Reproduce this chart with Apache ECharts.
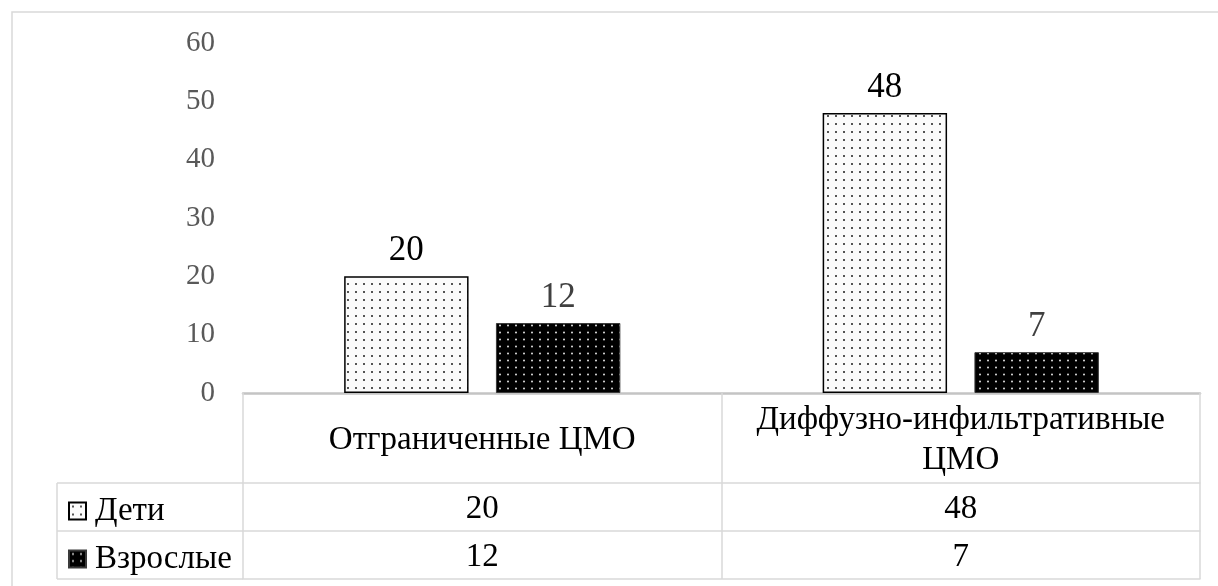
<!DOCTYPE html>
<html>
<head>
<meta charset="utf-8">
<title>ЦМО: дети и взрослые</title>
<script src="https://cdn.jsdelivr.net/npm/echarts@6/dist/echarts.min.js"></script>
<style>
  html, body { margin: 0; padding: 0; background: #ffffff; }
  #chart { width: 1218px; height: 586px; }
</style>
</head>
<body>
<div id="chart"></div>
<script>
// Data
const categories = ['Отграниченные ЦМО', 'Диффузно-инфильтративные ЦМО'];
const seriesNames = ['Дети', 'Взрослые'];
const kidsValues = [20, 48];
const adultValues = [12, 7];
const yTicks = [0, 10, 20, 30, 40, 50, 60];

const FONT = "'Liberation Serif', 'Times New Roman', serif";
const LINE = '#d9d9d9';
const TABLE_FONT = 33;

// Dotted fills for the bars
function dotTile(w, h, bg, dot, r) {
  const c = document.createElement('canvas');
  c.width = w; c.height = h;
  const ctx = c.getContext('2d');
  ctx.fillStyle = bg;
  ctx.fillRect(0, 0, w, h);
  ctx.fillStyle = dot;
  ctx.beginPath();
  ctx.arc(w / 2, h / 2, r, 0, Math.PI * 2);
  ctx.fill();
  return c;
}
const kidsFill = { image: dotTile(8, 8, '#fbfbfb', '#1e1e1e', 1.0), repeat: 'repeat' };
const adultFill = { image: dotTile(8, 7, '#000000', '#e0e0e0', 1.0), repeat: 'repeat' };

// Long category names wrap onto two lines at their last space
function wrapName(name) {
  if (name.length <= 20) return name;
  const i = name.lastIndexOf(' ');
  return i > 0 ? name.slice(0, i) + '\n' + name.slice(i + 1) : name;
}

// Table geometry (grid bottom = table top)
const gridLeft = 243, gridRight = 18, gridTop = 43, gridBottom = 193;
const headerH = 90, rowH = 48;
const tableTop = 586 - gridBottom;
const legendLeft = 57;

const chart = echarts.init(document.getElementById('chart'), null, { renderer: 'canvas' });

function rowAxis(offset, values, showTicks) {
  return {
    type: 'category',
    data: categories,
    position: 'bottom',
    offset: offset,
    axisLine: { show: true, lineStyle: { color: LINE, width: 1.5 } },
    axisTick: { show: showTicks, alignWithLabel: false, length: rowH, lineStyle: { color: LINE, width: 1.5 } },
    axisLabel: {
      show: !!values,
      interval: 0,
      margin: rowH / 2 + 2,
      verticalAlign: 'middle',
      fontFamily: FONT,
      fontSize: TABLE_FONT,
      color: '#000',
      formatter: function (v, i) { return values ? String(values[i]) : ''; }
    },
    splitLine: { show: false }
  };
}

const legendLines = [];
[headerH, headerH + rowH, headerH + 2 * rowH].forEach(function (dy) {
  legendLines.push({
    type: 'line',
    shape: { x1: legendLeft, y1: tableTop + dy, x2: gridLeft, y2: tableTop + dy },
    style: { stroke: LINE, lineWidth: 1.5 }
  });
});
legendLines.push({
  type: 'line',
  shape: { x1: legendLeft, y1: tableTop + headerH, x2: legendLeft, y2: tableTop + headerH + 2 * rowH },
  style: { stroke: LINE, lineWidth: 1.5 }
});

const option = {
  backgroundColor: '#ffffff',
  animation: false,
  grid: { left: gridLeft, right: gridRight, top: gridTop, bottom: gridBottom, containLabel: false },
  legend: {
    orient: 'vertical',
    left: 63,
    top: tableTop + headerH + 6,
    itemWidth: 17,
    itemHeight: 17,
    itemGap: 14,
    icon: 'rect',
    data: seriesNames,
    textStyle: { fontFamily: FONT, fontSize: TABLE_FONT, color: '#000', lineHeight: 34, padding: [0, 0, 0, 4] }
  },
  xAxis: [
    {
      type: 'category',
      data: categories,
      position: 'bottom',
      axisLine: { show: true, lineStyle: { color: '#c4c4c4', width: 2.5 } },
      axisTick: { show: true, alignWithLabel: false, length: headerH, lineStyle: { color: LINE, width: 1.5 } },
      axisLabel: {
        interval: 0,
        margin: headerH / 2 + 2,
        verticalAlign: 'middle',
        fontFamily: FONT,
        fontSize: TABLE_FONT,
        lineHeight: 40,
        color: '#000',
        formatter: wrapName
      },
      splitLine: { show: false }
    },
    rowAxis(headerH, kidsValues, true),
    rowAxis(headerH + rowH, adultValues, true),
    rowAxis(headerH + 2 * rowH, null, false)
  ],
  yAxis: {
    type: 'value',
    min: yTicks[0],
    max: yTicks[yTicks.length - 1],
    interval: yTicks[1] - yTicks[0],
    axisLine: { show: false },
    axisTick: { show: false },
    splitLine: { show: false },
    axisLabel: { margin: 28, fontFamily: FONT, fontSize: 29, color: '#595959', padding: [4, 0, 0, 0] }
  },
  series: [
    {
      name: seriesNames[0],
      type: 'bar',
      xAxisIndex: 0,
      data: kidsValues,
      barWidth: '26%',
      barGap: '22%',
      itemStyle: { color: kidsFill, borderColor: '#000', borderWidth: 1.5 },
      label: { show: true, position: 'top', distance: 8, fontFamily: FONT, fontSize: 35, color: '#000' }
    },
    {
      name: seriesNames[1],
      type: 'bar',
      xAxisIndex: 0,
      data: adultValues,
      barWidth: '26%',
      barGap: '22%',
      itemStyle: { color: adultFill, borderColor: '#3a3a3a', borderWidth: 1 },
      label: { show: true, position: 'top', distance: 8, fontFamily: FONT, fontSize: 35, color: '#404040' }
    }
  ],
  graphic: [
    {
      type: 'rect',
      shape: { x: 12, y: 12, width: 1400, height: 800 },
      style: { fill: 'none', stroke: LINE, lineWidth: 1.5 },
      silent: true,
      z: -1
    }
  ].concat(legendLines)
};

chart.setOption(option);
</script>
</body>
</html>
